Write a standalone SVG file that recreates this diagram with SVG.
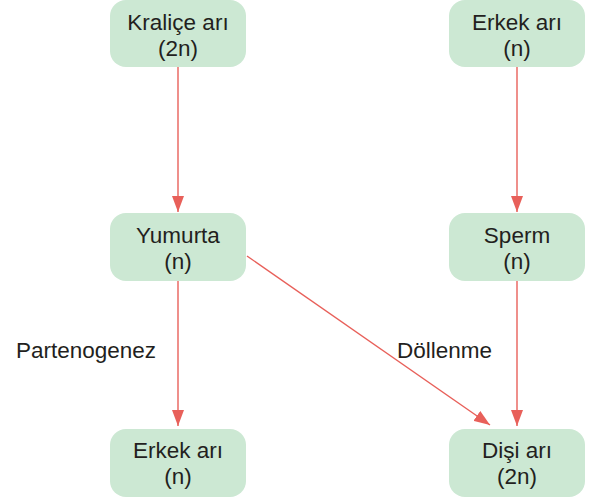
<svg xmlns="http://www.w3.org/2000/svg" width="601" height="502" viewBox="0 0 601 502">
<style>
.box{fill:#cce8d3;}
.t{font-family:"Liberation Sans",Arial,sans-serif;font-size:22.5px;fill:#231f20;text-anchor:middle;}
.l{font-family:"Liberation Sans",Arial,sans-serif;font-size:22.5px;fill:#231f20;}
.c{stroke:#e8605a;stroke-width:1.4;fill:none;}
</style>
<defs>
<marker id="ah" markerWidth="16" markerHeight="12" refX="16" refY="6" viewBox="0 0 16 12" orient="auto" markerUnits="userSpaceOnUse">
<path d="M0,0 L16,6 L0,12 Z" fill="#e8605a"/>
</marker>
</defs>
<g id="connectors">
<line class="c" x1="178" y1="67" x2="178" y2="212" marker-end="url(#ah)"/>
<line class="c" x1="517" y1="67" x2="517" y2="212" marker-end="url(#ah)"/>
<line class="c" x1="178" y1="281" x2="178" y2="426" marker-end="url(#ah)"/>
<line class="c" x1="517" y1="281" x2="517" y2="426" marker-end="url(#ah)"/>
<line class="c" x1="247" y1="256" x2="490" y2="425" marker-end="url(#ah)"/>
</g>
<g id="kralice">
<rect class="box" x="110" y="0" width="136" height="67" rx="16"/>
<text class="t" x="178" y="30">Kraliçe arı</text>
<text class="t" x="178" y="56">(2n)</text>
</g>
<g id="erkek-top">
<rect class="box" x="449" y="0" width="136" height="67" rx="16"/>
<text class="t" x="517" y="30">Erkek arı</text>
<text class="t" x="517" y="56">(n)</text>
</g>
<g id="yumurta">
<rect class="box" x="110" y="213" width="136" height="68" rx="16"/>
<text class="t" x="178" y="243">Yumurta</text>
<text class="t" x="178" y="269">(n)</text>
</g>
<g id="sperm">
<rect class="box" x="449" y="213" width="136" height="68" rx="16"/>
<text class="t" x="517" y="243">Sperm</text>
<text class="t" x="517" y="269">(n)</text>
</g>
<g id="erkek-bottom">
<rect class="box" x="110" y="429" width="136" height="68" rx="16"/>
<text class="t" x="178" y="458">Erkek arı</text>
<text class="t" x="178" y="484">(n)</text>
</g>
<g id="disi">
<rect class="box" x="449" y="429" width="136" height="68" rx="16"/>
<text class="t" x="517" y="458">Dişi arı</text>
<text class="t" x="517" y="484">(2n)</text>
</g>
<text class="l" x="16" y="358">Partenogenez</text>
<text class="l" x="397" y="358">Döllenme</text>
</svg>
